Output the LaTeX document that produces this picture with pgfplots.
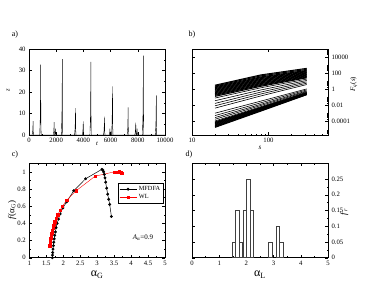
\documentclass[border=0pt]{standalone}
\usepackage{fontspec}
\setmainfont{Liberation Serif}
\usepackage{pgfplots}
\pgfplotsset{compat=1.18}
\usepackage{pgfplotstable}

\pgfplotstableread{
s l1 l2 l3 l4 l5 l6 l7 l8 l9 l10 l11 l12 l13 l14 l15 l16 l17 l18 l19 l20 l21 l22 l23 l24 l25 l26 l27 l28 l29 l30 l31 l32
20 0.495 0.390 0.285 0.180 0.075 -0.029 -0.134 -0.239 -0.344 -0.449 -0.554 -0.658 -0.763 -0.889 -1.099 -1.434 -1.769 -2.063 -2.356 -2.985 -3.279 -3.530 -3.740 -3.950 -4.076 -4.172 -4.268 -4.365 -4.461 -4.558 -4.654 -4.746
80 1.78 1.66 1.53 1.43 1.32 1.22 1.12 1.01 0.91 0.80 0.70 0.59 0.49 0.37 0.18 -0.09 -0.35 -0.59 -0.83 -1.476 -1.686 -1.874 -2.021 -2.168 -2.263 -2.327 -2.392 -2.457 -2.522 -2.587 -2.652 -2.713
316 2.591 2.465 2.340 2.256 2.172 2.088 2.004 1.920 1.836 1.753 1.669 1.585 1.501 1.417 1.249 1.082 0.914 0.746 0.579 0.033 -0.092 -0.218 -0.302 -0.386 -0.449 -0.482 -0.516 -0.549 -0.583 -0.616 -0.650 -0.679
}\Fq

\pgfplotsset{
  every axis/.append style={
    scale only axis,
    tick align=inside,
    major tick length=2.6pt,
    minor tick length=1.4pt,
    tick style={line width=0.4pt, black},
    axis line style={line width=0.5pt},
    tick label style={font=\fontsize{6.7}{7}\selectfont},
    /pgf/number format/assume math mode=true,
    /pgf/number format/1000 sep={},
    scaled ticks=false,
  }
}

\begin{document}
\begin{tikzpicture}
\path[use as bounding box] (0,0) rectangle (365pt,298pt);

\node[font=\fontsize{8}{9}\selectfont] at (15pt,263pt) {a)};
\node[font=\fontsize{8}{9}\selectfont] at (192pt,263pt) {b)};
\node[font=\fontsize{8}{9}\selectfont] at (15pt,143pt) {c)};
\node[font=\fontsize{8}{9}\selectfont] at (189pt,143pt) {d)};

% panel a
\begin{axis}[at={(29pt,163pt)}, anchor=south west, width=136pt, height=86pt,
  xmin=0, xmax=10000, ymin=0, ymax=40,
  xtick={0,2000,...,10000}, ytick={0,10,...,40},
  minor x tick num=1, minor y tick num=1,
  xlabel={\textit{t}}, ylabel={\textit{z}},
  label style={font=\fontsize{6.5}{7}\selectfont},
  xlabel style={at={(axis description cs:0.5,-0.1)}, anchor=center},
  ylabel style={at={(axis description cs:-0.154,0.52)}, anchor=center},
]
\addplot[black, line width=0.4pt] coordinates {
(0,0)
(230,0)(270,1.6)(292,4.6)(300,6.5)(310,2.0)(330,0)
(790,0)(830,8.2)(852,22.9)(860,32.7)(870,9.8)(890,0)
(1780,0)(1820,1.5)(1842,4.2)(1850,6)(1860,1.8)(1880,0)
(1910,0)(1940,0.8)(1960,3)(1975,0.9)(1990,0)
(2380,0)(2420,8.8)(2442,24.7)(2450,35.3)(2460,10.6)(2480,0)
(3350,0)(3390,3.1)(3412,8.8)(3420,12.5)(3430,3.8)(3450,0)
(3920,0)(3960,1.6)(3982,4.4)(3990,6.3)(4000,1.9)(4020,0)
(4480,0)(4520,8.5)(4542,23.8)(4550,34)(4560,10.2)(4580,0)
(5480,0)(5520,2.2)(5542,6.0)(5550,8.6)(5560,2.6)(5580,0)
(5900,0)(5930,0.8)(5950,3)(5965,0.9)(5980,0)
(6070,0)(6110,5.7)(6132,15.8)(6140,22.6)(6150,6.8)(6170,0)
(7220,0)(7260,3.2)(7282,9.0)(7290,12.8)(7300,3.8)(7320,0)
(7780,0)(7820,1.5)(7842,4.1)(7850,5.8)(7860,1.7)(7880,0)
(7900,0)(7930,0.8)(7950,3)(7965,0.9)(7980,0)
(8340,0)(8380,9.2)(8402,25.8)(8410,36.9)(8420,11.1)(8440,0)
(9290,0)(9330,4.6)(9352,13.0)(9360,18.5)(9370,5.6)(9390,0)
(10000,0)
};
\end{axis}

% panel b
\begin{axis}[at={(192pt,163pt)}, anchor=south west, width=136pt, height=86pt,
  xmode=log, ymode=log,
  xmin=10, xmax=600, ymin=2e-6, ymax=1e5,
  xtick={10,100}, xticklabels={10,100},
  minor xtick={20,30,40,50,60,70,80,90,200,300,400,500},
  ytick={1e-4,1e-2,1,1e2,1e4}, yticklabels={0.0001,0.01,1,100,10000},
  minor ytick={2e4,3e4,4e4,5e4,6e4,7e4,8e4,9e4,200,300,400,500,600,700,800,900,2,3,4,5,6,7,8,9,0.02,0.03,0.04,0.05,0.06,0.07,0.08,0.09,2e-4,3e-4,4e-4,5e-4,6e-4,7e-4,8e-4,9e-4,2e-6,3e-6,4e-6,5e-6,6e-6,7e-6,8e-6,9e-6},
  yticklabel pos=right,
  xlabel={\textit{s}}, ylabel={\textit{F}\textsubscript{\textit{q}}(\textit{s})},
  label style={font=\fontsize{7}{8}\selectfont},
  xlabel style={at={(axis description cs:0.5,-0.153)}, anchor=center},
  ylabel style={at={(axis description cs:1.19,0.59)}, anchor=center},
]
\pgfplotsinvokeforeach{1,...,14}{
  \addplot[black, line width=1.05pt] table[x=s, y expr={10^(\thisrow{l#1})}] {\Fq};
}
\pgfplotsinvokeforeach{15,...,24}{
  \addplot[black, line width=0.6pt] table[x=s, y expr={10^(\thisrow{l#1})}] {\Fq};
}
\pgfplotsinvokeforeach{25,...,32}{
  \addplot[black, line width=1.05pt] table[x=s, y expr={10^(\thisrow{l#1})}] {\Fq};
}
\end{axis}

% panel c
\begin{axis}[at={(29.3pt,40.3pt)}, anchor=south west, width=135.7pt, height=94.4pt,
  xmin=1, xmax=5, ymin=0, ymax=1.1,
  xtick={1,1.5,...,5}, ytick={0,0.2,...,1},
  minor x tick num=1, minor y tick num=1,
  xlabel={α\textsubscript{G}}, ylabel={\textit{f}(α\textsubscript{G})},
  xlabel style={font=\fontsize{12}{13}\selectfont, at={(axis description cs:0.5,-0.183)}, anchor=center},
  ylabel style={font=\fontsize{9}{10}\selectfont, at={(axis description cs:-0.127,0.505)}, anchor=center},
  legend style={at={(rel axis cs:0.654,0.79)}, anchor=north west, draw=black, line width=0.5pt,
    font=\fontsize{6.3}{7}\selectfont, inner sep=1pt, row sep=-1.5pt, cells={anchor=west}},
  legend cell align=left,
]
\addplot[black, line width=0.5pt, mark=*, mark size=1.2pt] coordinates {
(1.68,0.00)(1.685,0.03)(1.69,0.06)(1.70,0.10)(1.71,0.14)(1.72,0.18)(1.735,0.22)(1.75,0.26)(1.77,0.30)(1.79,0.35)(1.82,0.40)(1.86,0.45)(1.91,0.51)(1.99,0.58)(2.10,0.65)(2.31,0.78)(2.66,0.92)(3.14,1.03)(3.17,1.02)(3.19,1.00)(3.21,0.97)(3.23,0.93)(3.25,0.88)(3.28,0.81)(3.31,0.74)(3.34,0.68)(3.37,0.62)(3.42,0.48)
};
\addlegendentry{MFDFA}
\addplot[red, line width=0.4pt, mark=square*, mark size=1.1pt] coordinates {
(1.60,0.14)(1.61,0.17)(1.62,0.20)(1.63,0.23)(1.645,0.26)(1.66,0.29)(1.68,0.32)(1.70,0.35)(1.72,0.38)(1.75,0.42)(1.79,0.46)(1.84,0.50)(1.90,0.55)(1.98,0.60)(2.10,0.67)(2.38,0.78)(2.94,0.95)(3.50,1.00)(3.58,1.00)(3.64,1.01)(3.68,1.00)(3.71,0.99)(3.74,0.98)
};
\addlegendentry{WL}
\node[font=\fontsize{7}{8}\selectfont] at (axis cs:4.35,0.23) {\textit{A}\textsubscript{α}=0.9};
\end{axis}

% panel d
\begin{axis}[at={(192pt,40.3pt)}, anchor=south west, width=136pt, height=94.4pt,
  xmin=0, xmax=5, ymin=0, ymax=0.3,
  xtick={0,1,...,5}, ytick={0,0.05,0.1,0.15,0.2,0.25},
  minor x tick num=1, minor y tick num=1,
  yticklabel pos=right,
  yticklabel style={/pgf/number format/fixed, /pgf/number format/precision=2},
  xlabel={α\textsubscript{L}}, ylabel={\textit{f}\textsubscript{\textit{r}}},
  xlabel style={font=\fontsize{12}{13}\selectfont, at={(axis description cs:0.5,-0.183)}, anchor=center},
  ylabel style={font=\fontsize{9}{10}\selectfont, at={(axis description cs:1.118,0.484)}, anchor=center},
]
\addplot[ybar, bar width=0.125, draw=black!75, fill=none, line width=0.5pt] coordinates {
(1.528,0.05)(1.663,0.15)(1.798,0.05)(1.933,0.15)(2.068,0.25)(2.203,0.15)(2.878,0.05)(3.148,0.10)(3.283,0.05)
};
\end{axis}
\end{tikzpicture}
\end{document}
